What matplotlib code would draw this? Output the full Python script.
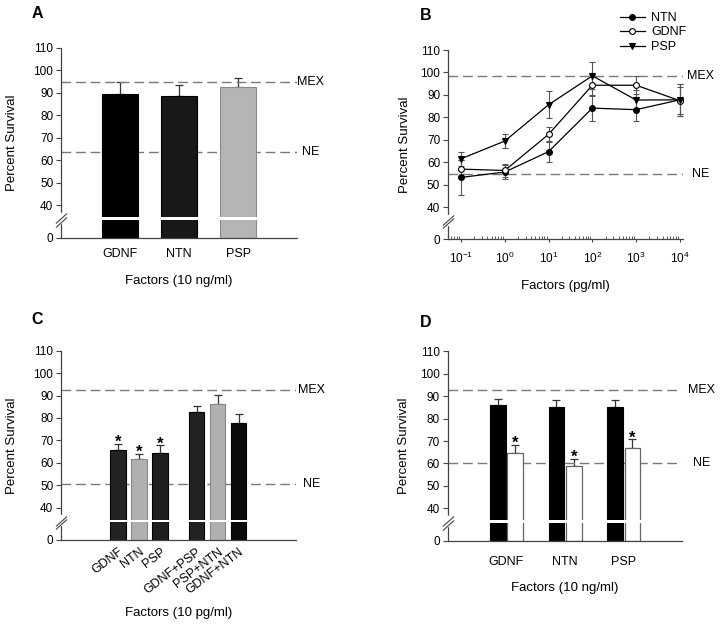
import numpy as np
import matplotlib
matplotlib.use("Agg")
import matplotlib.pyplot as plt
from matplotlib.patches import Rectangle

plt.rcParams["font.family"] = ["Liberation Sans", "DejaVu Sans"]
plt.rcParams["mathtext.fontset"] = "custom"
plt.rcParams["mathtext.rm"] = "Liberation Sans"

# panel A
a_labels = ["GDNF", "NTN", "PSP"]
a_vals = [89.3, 88.7, 92.8]
a_err = [5.4, 4.6, 4.0]
a_colors = ["#000000", "#181818", "#b5b5b5"]
a_mex, a_ne = 94.9, 63.9

# panel B
b_conc = [0.1, 1, 10, 100, 1000, 10000]
b_ntn = [53.2, 55.6, 64.7, 84.1, 83.4, 87.8]
b_ntn_err = [7.8, 3.0, 4.7, 5.6, 4.9, 7.0]
b_gdnf = [56.9, 56.3, 72.4, 94.3, 94.3, 87.4]
b_gdnf_err = [4.0, 3.0, 3.3, 4.5, 4.0, 6.0]
b_psp = [61.5, 69.4, 85.6, 98.5, 87.7, 87.8]
b_psp_err = [3.2, 3.0, 6.0, 6.0, 4.5, 7.0]
b_mex, b_ne = 98.4, 54.8

# panel C
c_labels = ["GDNF", "NTN", "PSP", "GDNF+PSP", "PSP+NTN", "GDNF+NTN"]
c_pos = [0, 1, 2, 3.73, 4.73, 5.73]
c_vals = [65.7, 61.9, 64.4, 82.5, 86.1, 77.6]
c_err = [2.9, 2.2, 3.6, 2.8, 4.0, 4.0]
c_star = [True, True, True, False, False, False]
c_colors = ["#232323", "#b0b0b0", "#1e1e1e", "#222222", "#b0b0b0", "#0a0a0a"]
c_mex, c_ne = 92.3, 50.4

# panel D
d_labels = ["GDNF", "NTN", "PSP"]
d_black = [85.9, 85.3, 85.0]
d_black_err = [2.9, 3.1, 3.5]
d_white = [64.8, 58.7, 66.8]
d_white_err = [3.6, 3.5, 3.9]
d_mex, d_ne = 92.6, 60.1

yticks = [0, 40, 50, 60, 70, 80, 90, 100, 110]

# broken y axis: 0..40 squeezed into a short stretch
Z0, T = 25.6, 40.0


def fwd(y):
    y = np.asarray(y, float)
    return np.where(y < T, Z0 + y * (T - Z0) / T, y)


def inv(d):
    d = np.asarray(d, float)
    return np.where(d < T, (d - Z0) * T / (T - Z0), d)


SPINE = "#444444"
DASH = "#7a7a7a"


def setup(ax, mex, ne, ylpad, text_x):
    ax.set_yscale("function", functions=(fwd, inv))
    ax.set_ylim(0, 110)
    ax.set_yticks(yticks)
    ax.set_yticklabels([str(t) for t in yticks])
    for s in ["top", "right"]:
        ax.spines[s].set_visible(False)
    for s in ["left", "bottom"]:
        ax.spines[s].set_color(SPINE)
        ax.spines[s].set_linewidth(0.9)
    ax.tick_params(axis="y", direction="out", length=3.5, width=0.8,
                   color=SPINE, labelsize=8.5, pad=2)
    ax.set_ylabel("Percent Survival", fontsize=9.5, labelpad=ylpad)
    for v, name in [(mex, "MEX"), (ne, "NE")]:
        ax.axhline(v, color=DASH, lw=1.0, dashes=(7, 3.5), zorder=1)
        ax.text(text_x, v, name, transform=ax.get_yaxis_transform(),
                ha="center", va="center", fontsize=9)
    # spine break
    ax.add_patch(Rectangle((-0.03, 18), 0.06, 12.5,
                           transform=ax.get_yaxis_transform(),
                           color="white", zorder=3, clip_on=False))
    ax.plot([0, 0], [20.0, 24.0], transform=ax.get_yaxis_transform(),
            marker=[(-1, -0.9), (1, 0.9)], markersize=8, linestyle="none",
            mec=SPINE, mew=0.8, clip_on=False, zorder=4)


def bar_gap(ax):
    ax.axhspan(21.9, 25.2, color="white", zorder=2.2, lw=0)


def star(ax, x, top):
    ax.annotate("*", (x, top), xytext=(0, -2.5), textcoords="offset points",
                ha="center", va="baseline", fontsize=12, fontweight="bold")


fig = plt.figure(figsize=(7.2, 6.26), dpi=100)

# ---- A
axA = fig.add_axes([0.0847, 0.620, 0.328, 0.3035])
xa = np.arange(len(a_labels))
axA.errorbar(xa, a_vals, yerr=[np.zeros(3), a_err], fmt="none",
             ecolor="#333333", elinewidth=0.9, capsize=3, capthick=0.9, zorder=1)
axA.bar(xa, a_vals, width=0.61, color=a_colors, edgecolor=["#000", "#000", "#8a8a8a"],
        linewidth=0.8, zorder=2)
bar_gap(axA)
setup(axA, a_mex, a_ne, 11, 1.055)
axA.set_xlim(-1, 3)
axA.set_xticks(xa)
axA.set_xticklabels(a_labels, fontsize=9)
axA.tick_params(axis="x", length=0, pad=7)
axA.set_xlabel("Factors (10 ng/ml)", fontsize=9.5, labelpad=11)

# ---- B
axB = fig.add_axes([0.622, 0.6177, 0.326, 0.3024])
axB.set_xscale("log")
series = [("NTN", b_ntn, b_ntn_err, "o", "black"),
          ("GDNF", b_gdnf, b_gdnf_err, "o", "white"),
          ("PSP", b_psp, b_psp_err, "v", "black")]
for name, vals, err, mk, fc in series:
    axB.errorbar(b_conc, vals, yerr=err, fmt="none", ecolor="#555555",
                 elinewidth=0.8, capsize=2.4, capthick=0.8, zorder=2)
    axB.plot(b_conc, vals, color="black", lw=0.9, marker=mk, markersize=4.2,
             mfc=fc, mec="black", mew=0.8, label=name, zorder=3)
setup(axB, b_mex, b_ne, 7, 1.077)
axB.set_xlim(10 ** -1.3, 10 ** 4.06)
axB.set_xticks(b_conc)
axB.tick_params(axis="x", which="major", direction="out", length=2.5,
                color=SPINE, labelsize=8.5, pad=6)
axB.tick_params(axis="x", which="minor", direction="in", length=2, color=SPINE)
axB.set_xlabel("Factors (pg/ml)", fontsize=9.5, labelpad=10)
axB.legend(loc="upper left", bbox_to_anchor=(0.861, 0.981),
           bbox_transform=fig.transFigure, frameon=False, fontsize=9,
           handlelength=2.0, handletextpad=0.5, labelspacing=0.2,
           borderpad=0, borderaxespad=0)

# ---- C
axC = fig.add_axes([0.0847, 0.1374, 0.326, 0.3024])
axC.errorbar(c_pos, c_vals, yerr=[np.zeros(6), c_err], fmt="none",
             ecolor="#333333", elinewidth=0.9, capsize=3, capthick=0.9, zorder=1)
axC.bar(c_pos, c_vals, width=0.75, color=c_colors,
        edgecolor=["#000", "#888", "#000", "#000", "#888", "#000"],
        linewidth=0.8, zorder=2)
bar_gap(axC)
for x, v, e, s in zip(c_pos, c_vals, c_err, c_star):
    if s:
        star(axC, x, v + e)
setup(axC, c_mex, c_ne, 11, 1.068)
axC.set_xlim(-2.72, 8.45)
axC.set_xticks(c_pos)
axC.set_xticklabels(c_labels, fontsize=9, rotation=37, ha="right",
                    rotation_mode="anchor")
axC.tick_params(axis="x", length=0, pad=4)
axC.set_xlabel("Factors (10 pg/ml)", fontsize=9.5, labelpad=8)

# ---- D
axD = fig.add_axes([0.6218, 0.1363, 0.326, 0.3026])
xd = np.arange(len(d_labels))
off = 0.148
axD.errorbar(xd - off, d_black, yerr=[np.zeros(3), d_black_err], fmt="none",
             ecolor="#333333", elinewidth=0.9, capsize=3, capthick=0.9, zorder=1)
axD.errorbar(xd + off, d_white, yerr=[np.zeros(3), d_white_err], fmt="none",
             ecolor="#333333", elinewidth=0.9, capsize=3, capthick=0.9, zorder=1)
axD.bar(xd - off, d_black, width=0.267, color="black", edgecolor="black",
        linewidth=0.8, zorder=2)
axD.bar(xd + off, d_white, width=0.267, color="white", edgecolor="#666666",
        linewidth=0.9, zorder=2)
bar_gap(axD)
for x, v, e in zip(xd + off, d_white, d_white_err):
    star(axD, x, v + e)
setup(axD, d_mex, d_ne, 7, 1.081)
axD.set_xlim(-1, 3)
axD.set_xticks(xd)
axD.set_xticklabels(d_labels, fontsize=9)
axD.tick_params(axis="x", length=0, pad=11)
axD.set_xlabel("Factors (10 ng/ml)", fontsize=9.5, labelpad=10)

for lab, x, y in [("A", 0.044, 0.991), ("B", 0.583, 0.987),
                  ("C", 0.044, 0.502), ("D", 0.583, 0.497)]:
    fig.text(x, y, lab, fontsize=11.5, fontweight="bold", va="top")

fig.savefig("out.png", dpi=100)
